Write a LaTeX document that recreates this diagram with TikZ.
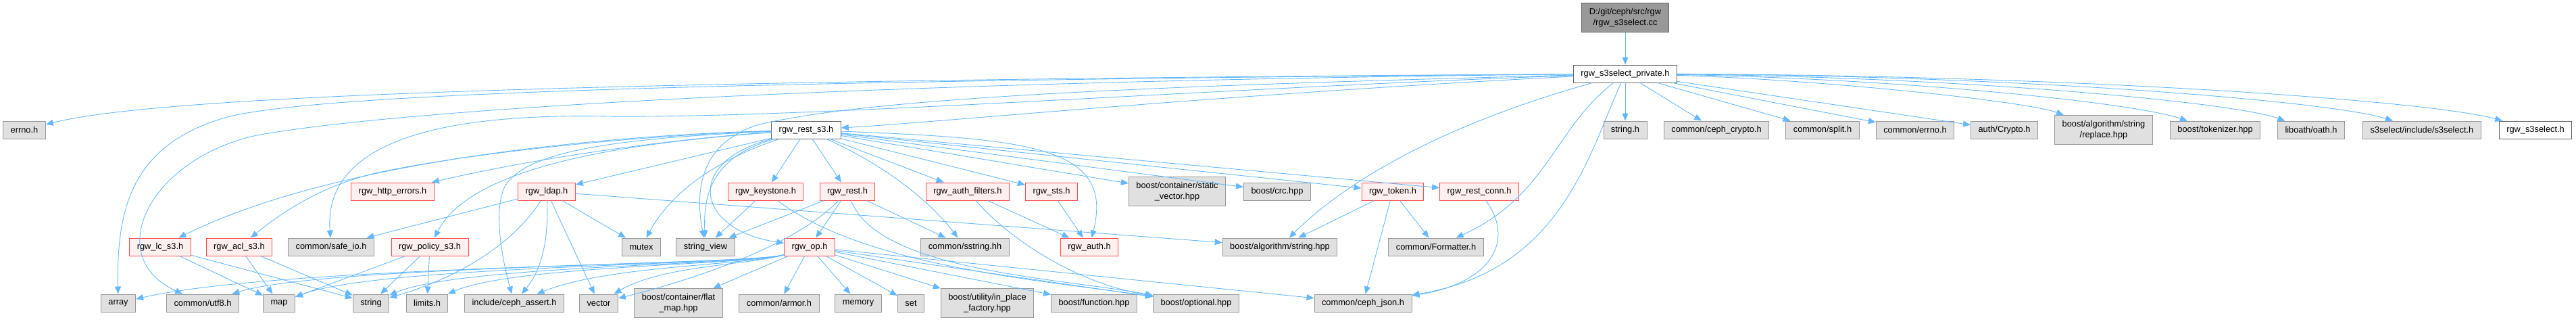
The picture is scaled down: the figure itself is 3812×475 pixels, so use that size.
\documentclass[tikz,border=0pt]{standalone}
\usepackage{fontspec}
\setmainfont{Liberation Sans}
\usepackage{tikz}
\usetikzlibrary{arrows.meta}
\definecolor{DoxEdge}{HTML}{63B8FF}
\definecolor{DoxGray}{HTML}{E0E0E0}
\definecolor{DoxGrayLine}{HTML}{999999}
\definecolor{DoxDark}{HTML}{666666}
\definecolor{DoxRoot}{HTML}{999999}
\definecolor{DoxPink}{HTML}{FFF0F0}
\definecolor{DoxRed}{HTML}{FF4D4D}

\begin{document}
\begin{tikzpicture}[
  x=0.2mm,
  y=-0.2mm,
  >={Triangle[length=2.2mm,width=1.8mm]},
  filebox/.style={
    rectangle,
    line width=0.55pt,
    minimum height=5.2mm,
    inner xsep=2.2mm,
    inner ysep=0.5pt,
    align=center,
    font=\fontsize{7.3}{9.4}\selectfont,
    text=black
  },
  extbox/.style={filebox, draw=DoxGrayLine, fill=DoxGray},
  redbox/.style={filebox, draw=DoxRed, fill=DoxPink},
  localbox/.style={filebox, draw=DoxDark, fill=white},
  rootbox/.style={filebox, draw=DoxDark, fill=DoxRoot},
  twoline/.style={minimum height=8.6mm},
  inc/.style={->, draw=DoxEdge, line width=0.5pt}
]
\useasboundingbox (0,0) rectangle (3812,475);

% the file and its private header
\node[rootbox,twoline] (cc) at (2405,26) {D:/git/ceph/src/rgw\\/rgw\_s3select.cc};
\node[localbox] (priv) at (2405,109) {rgw\_s3select\_private.h};

% row 2
\node[extbox] (errno) at (36,192) {errno.h};
\node[localbox] (rests3) at (1193,192) {rgw\_rest\_s3.h};
\node[extbox] (stringh) at (2405,192) {string.h};
\node[extbox] (cephcrypto) at (2540,192) {common/ceph\_crypto.h};
\node[extbox] (split) at (2697,192) {common/split.h};
\node[extbox] (cerrno) at (2834,192) {common/errno.h};
\node[extbox] (crypto) at (2966,192) {auth/Crypto.h};
\node[extbox,twoline] (replace) at (3113,192) {boost/algorithm/string\\/replace.hpp};
\node[extbox] (tokenizer) at (3278,192) {boost/tokenizer.hpp};
\node[extbox] (oath) at (3420,192) {liboath/oath.h};
\node[extbox] (s3sel) at (3584,192) {s3select/include/s3select.h};
\node[localbox] (s3selh) at (3752,192) {rgw\_s3select.h};

% row 3
\node[redbox] (httperr) at (581,283) {rgw\_http\_errors.h};
\node[redbox] (ldap) at (809,283) {rgw\_ldap.h};
\node[redbox] (keystone) at (1133,283) {rgw\_keystone.h};
\node[redbox] (rest) at (1254,283) {rgw\_rest.h};
\node[redbox] (authfilt) at (1432,283) {rgw\_auth\_filters.h};
\node[redbox] (sts) at (1556,283) {rgw\_sts.h};
\node[extbox,twoline] (staticvec) at (1742,283) {boost/container/static\\\_vector.hpp};
\node[extbox] (crc) at (1890,283) {boost/crc.hpp};
\node[redbox] (token) at (2061,283) {rgw\_token.h};
\node[redbox] (restconn) at (2189,283) {rgw\_rest\_conn.h};

% row 4
\node[redbox] (lcs3) at (237,365) {rgw\_lc\_s3.h};
\node[redbox] (acls3) at (354,365) {rgw\_acl\_s3.h};
\node[extbox] (safeio) at (490,365) {common/safe\_io.h};
\node[redbox] (policys3) at (636,365) {rgw\_policy\_s3.h};
\node[extbox] (mutex) at (949,365) {mutex};
\node[extbox] (strview) at (1044,365) {string\_view};
\node[redbox] (op) at (1198,365) {rgw\_op.h};
\node[extbox] (sstring) at (1428,365) {common/sstring.hh};
\node[redbox] (auth) at (1612,365) {rgw\_auth.h};
\node[extbox] (bstring) at (1894,365) {boost/algorithm/string.hpp};
\node[extbox] (formatter) at (2125,365) {common/Formatter.h};

% row 5
\node[extbox] (array) at (175,448) {array};
\node[extbox] (utf8) at (300,448) {common/utf8.h};
\node[extbox] (map) at (413,448) {map};
\node[extbox] (string) at (549,448) {string};
\node[extbox] (limits) at (632,448) {limits.h};
\node[extbox] (assert) at (761,448) {include/ceph\_assert.h};
\node[extbox] (vector) at (886,448) {vector};
\node[extbox,twoline] (flatmap) at (1004,448) {boost/container/flat\\\_map.hpp};
\node[extbox] (armor) at (1153,448) {common/armor.h};
\node[extbox] (memory) at (1270,448) {memory};
\node[extbox] (set) at (1348,448) {set};
\node[extbox,twoline] (inplace) at (1461,448) {boost/utility/in\_place\\\_factory.hpp};
\node[extbox] (function) at (1619,448) {boost/function.hpp};
\node[extbox] (optional) at (1770,448) {boost/optional.hpp};
\node[extbox] (cephjson) at (2017,448) {common/ceph\_json.h};

\draw[inc] (cc) -- (priv);

% includes of rgw_s3select_private.h
\draw[inc] (priv) .. controls (1000,118) and (250,138) .. (errno);
\draw[inc] (priv) .. controls (1000,120) and (480,140) .. (340,172)
  .. controls (200,210) and (172,300) .. (array);
\draw[inc] (priv) .. controls (1300,120) and (600,160) .. (380,200)
  .. controls (220,235) and (150,380) .. (utf8);
\draw[inc] (priv) .. controls (1800,130) and (1200,175) .. (900,172)
  .. controls (600,166) and (480,230) .. (safeio);
\draw[inc] (priv) .. controls (1800,125) and (1300,140) .. (1120,185)
  .. controls (1030,215) and (1030,290) .. (strview);
\draw[inc] (priv) .. controls (1800,140) and (1400,180) .. (rests3);
\draw[inc] (priv) .. controls (2150,180) and (2000,260) .. (bstring);
\draw[inc] (priv) .. controls (2300,190) and (2290,290) .. (formatter);
\draw[inc] (priv) .. controls (2350,230) and (2310,400) .. (cephjson);
\foreach \t in {stringh,cephcrypto,split,cerrno,crypto}
  \draw[inc] (priv) -- (\t);
\draw[inc] (priv) .. controls (2700,118) and (3000,150) .. (replace);
\draw[inc] (priv) .. controls (2800,116) and (3150,150) .. (tokenizer);
\draw[inc] (priv) .. controls (2900,114) and (3300,150) .. (oath);
\draw[inc] (priv) .. controls (3000,112) and (3450,150) .. (s3sel);
\draw[inc] (priv) .. controls (3100,112) and (3600,150) .. (s3selh);

% includes of rgw_rest_s3.h
\draw[inc] (rests3) .. controls (1000,205) and (800,232) .. (httperr);
\draw[inc] (rests3) .. controls (900,200) and (500,235) .. (lcs3);
\draw[inc] (rests3) .. controls (950,200) and (700,225) .. (560,255)
  .. controls (470,275) and (410,320) .. (acls3);
\draw[inc] (rests3) .. controls (950,210) and (700,240) .. (policys3);
\draw[inc] (rests3) .. controls (900,205) and (770,225) .. (745,280)
  .. controls (730,320) and (745,390) .. (assert);
\draw[inc] (rests3) .. controls (1050,240) and (990,290) .. (mutex);
\draw[inc] (rests3) .. controls (1060,230) and (1040,280) .. (strview);
\draw[inc] (rests3) .. controls (1010,240) and (1030,340) .. (op);
\draw[inc] (rests3) .. controls (1300,240) and (1370,290) .. (sstring);
\draw[inc] (rests3) .. controls (1520,205) and (1650,215) .. (auth);
\foreach \t in {ldap,keystone,rest,authfilt,sts,staticvec,crc,token,restconn}
  \draw[inc] (rests3) -- (\t);

% row 3 headers
\draw[inc] (ldap) -- (safeio);
\draw[inc] (ldap) .. controls (760,360) and (680,410) .. (string);
\draw[inc] (ldap) .. controls (812,360) and (800,400) .. (assert);
\draw[inc] (ldap) -- (vector);
\draw[inc] (ldap) -- (mutex);
\draw[inc] (ldap) -- (bstring);
\draw[inc] (keystone) -- (strview);
\draw[inc] (keystone) .. controls (1280,395) and (1550,415) .. (optional);
\draw[inc] (rest) -- (op);
\draw[inc] (rest) -- (strview);
\draw[inc] (rest) -- (sstring);
\draw[inc] (rest) .. controls (1170,370) and (1000,420) .. (vector);
\draw[inc] (rest) .. controls (1300,400) and (1560,410) .. (optional);
\draw[inc] (authfilt) -- (auth);
\draw[inc] (authfilt) .. controls (1500,360) and (1600,420) .. (optional);
\draw[inc] (sts) -- (auth);
\draw[inc] (token) -- (bstring);
\draw[inc] (token) -- (formatter);
\draw[inc] (token) -- (cephjson);
\draw[inc] (restconn) .. controls (2245,360) and (2200,420) .. (cephjson);

% row 4 headers
\foreach \t in {map,string} {
  \draw[inc] (lcs3) -- (\t);
  \draw[inc] (acls3) -- (\t);
}
\foreach \t in {map,string,limits}
  \draw[inc] (policys3) -- (\t);
\foreach \t/\cx in {array/420,utf8/480,map/560,string/680,limits/760,assert/900,vector/980}
  \draw[inc] (op) .. controls (1110,392) and (\cx,392) .. (\t);
\foreach \t in {flatmap,armor,memory,set,inplace,function,optional,cephjson}
  \draw[inc] (op) -- (\t);

\end{tikzpicture}
\end{document}
